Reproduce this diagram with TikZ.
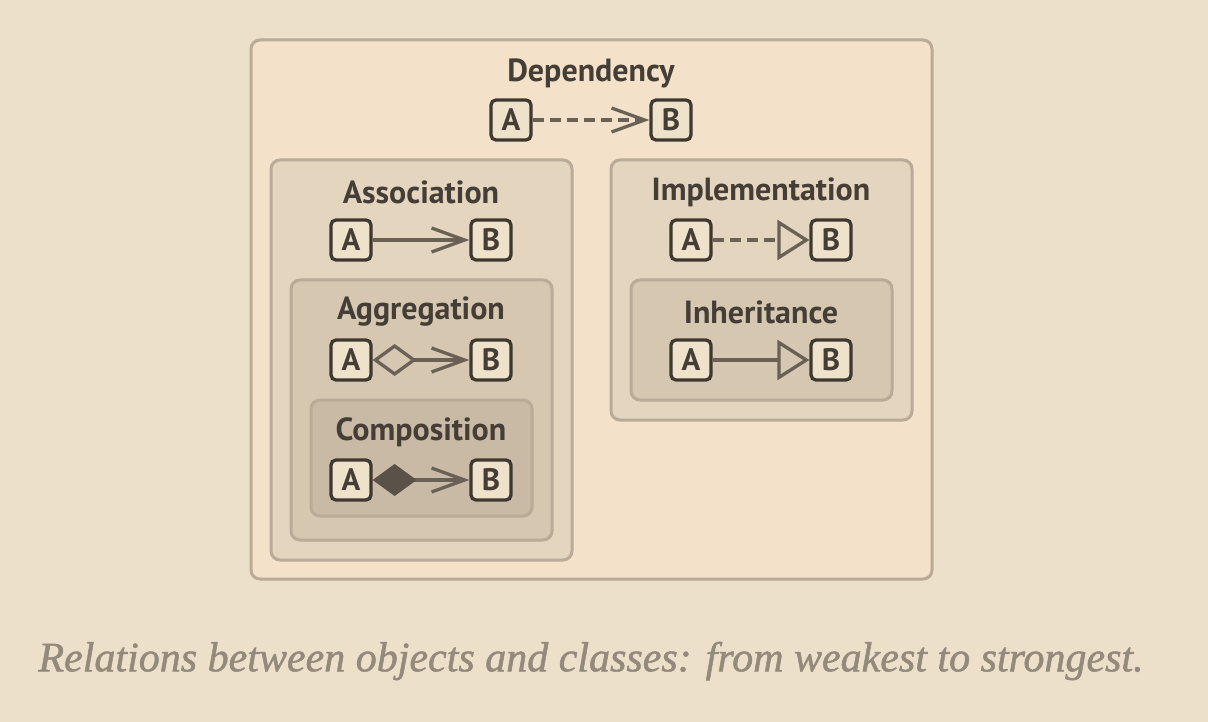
\documentclass[tikz,border=0pt]{standalone}
\usepackage{fontspec}
\setsansfont{PT Sans}
\newfontfamily\capfont[FakeBold=1.2]{Liberation Serif}
\usetikzlibrary{arrows.meta}
\definecolor{bgc}{HTML}{ECE0CA}
\definecolor{outerfill}{HTML}{F3E2C9}
\definecolor{assocfill}{HTML}{E4D5BE}
\definecolor{aggrfill}{HTML}{D6C7B1}
\definecolor{compfill}{HTML}{C9BAA5}
\definecolor{framec}{HTML}{B9AB97}
\definecolor{textc}{HTML}{453E37}
\definecolor{boxfill}{HTML}{EFE2CB}
\definecolor{boxline}{HTML}{3E3831}
\definecolor{linkc}{HTML}{6A6056}
\definecolor{solidd}{HTML}{5A5148}
\definecolor{capc}{HTML}{948A7C}
\tikzset{
  frame/.style={draw=framec, line width=3pt, rounded corners=9pt},
  cls/.style={draw=boxline, fill=boxfill, line width=3.3pt, rounded corners=5pt,
    minimum width=40pt, minimum height=40pt, inner sep=0pt, text=textc,
    font=\sffamily\bfseries\fontsize{31}{31}\selectfont},
  ttl/.style={text=textc, font=\sffamily\bfseries\fontsize{32}{32}\selectfont, inner sep=0pt},
  link/.style={draw=linkc, line width=3.3pt},
  barb/.style={-{Straight Barb[length=33pt,width=24pt,line width=3.3pt]}},
  dsh/.style={dash pattern=on 11pt off 6pt},
  tri/.style={-{Triangle[open,length=32pt,width=40pt,line width=3.3pt,fill=none]}},
}
\begin{document}
\begin{tikzpicture}[x=1pt,y=-1pt]
\fill[bgc] (0,0) rectangle (1208,722);
\useasboundingbox (0,0) rectangle (1208,722);
% frames
\draw[frame, fill=outerfill] (251,40) rectangle (932,579);
\draw[frame, fill=assocfill] (271,160) rectangle (572,560);
\draw[frame, fill=aggrfill] (291,280) rectangle (552,540);
\draw[frame, fill=compfill] (311,400) rectangle (532,516);
\draw[frame, fill=assocfill] (611,160) rectangle (912,420);
\draw[frame, fill=aggrfill] (631,280) rectangle (892,400);
% titles
\node[ttl] (tdep) at (591,73) {Dependency};
\node[ttl] (tass) at (421,192) {Association};
\node[ttl] (tagg) at (421,312) {Aggregation};
\node[ttl] (tcom) at (421,432) {Composition};
\node[ttl] (timp) at (761,192) {Implementation};
\node[ttl] (tinh) at (761,312) {Inheritance};
% class boxes
\node[cls] (depA) at (511,120) {A};
\node[cls] (depB) at (671,120) {B};
\node[cls] (assA) at (351,240) {A};
\node[cls] (assB) at (491,240) {B};
\node[cls] (aggA) at (351,360) {A};
\node[cls] (aggB) at (491,360) {B};
\node[cls] (comA) at (351,480) {A};
\node[cls] (comB) at (491,480) {B};
\node[cls] (impA) at (691,240) {A};
\node[cls] (impB) at (831,240) {B};
\node[cls] (inhA) at (691,360) {A};
\node[cls] (inhB) at (831,360) {B};
% connectors
\draw[link, dsh, barb] (depA) -- (depB);
\draw[link, barb] (assA) -- (assB);
\draw[link, {Diamond[open,length=44pt,width=32pt,line width=3.3pt,fill=none]}-{Straight Barb[length=33pt,width=24pt,line width=3.3pt]}] (aggA) -- (aggB);
\draw[link, {Diamond[length=44pt,width=32pt,line width=3.3pt,fill=solidd,color=solidd]}-{Straight Barb[length=33pt,width=24pt,line width=3.3pt]}] (comA) -- (comB);
\draw[link, dsh, tri] (impA) -- (impB);
\draw[link, tri] (inhA) -- (inhB);
% caption
\node[text=capc, font=\capfont\itshape\fontsize{42}{42}\selectfont, inner sep=0pt] (cap) at (591,661) {Relations between objects and classes: from weakest to strongest.};
\end{tikzpicture}
\end{document}
